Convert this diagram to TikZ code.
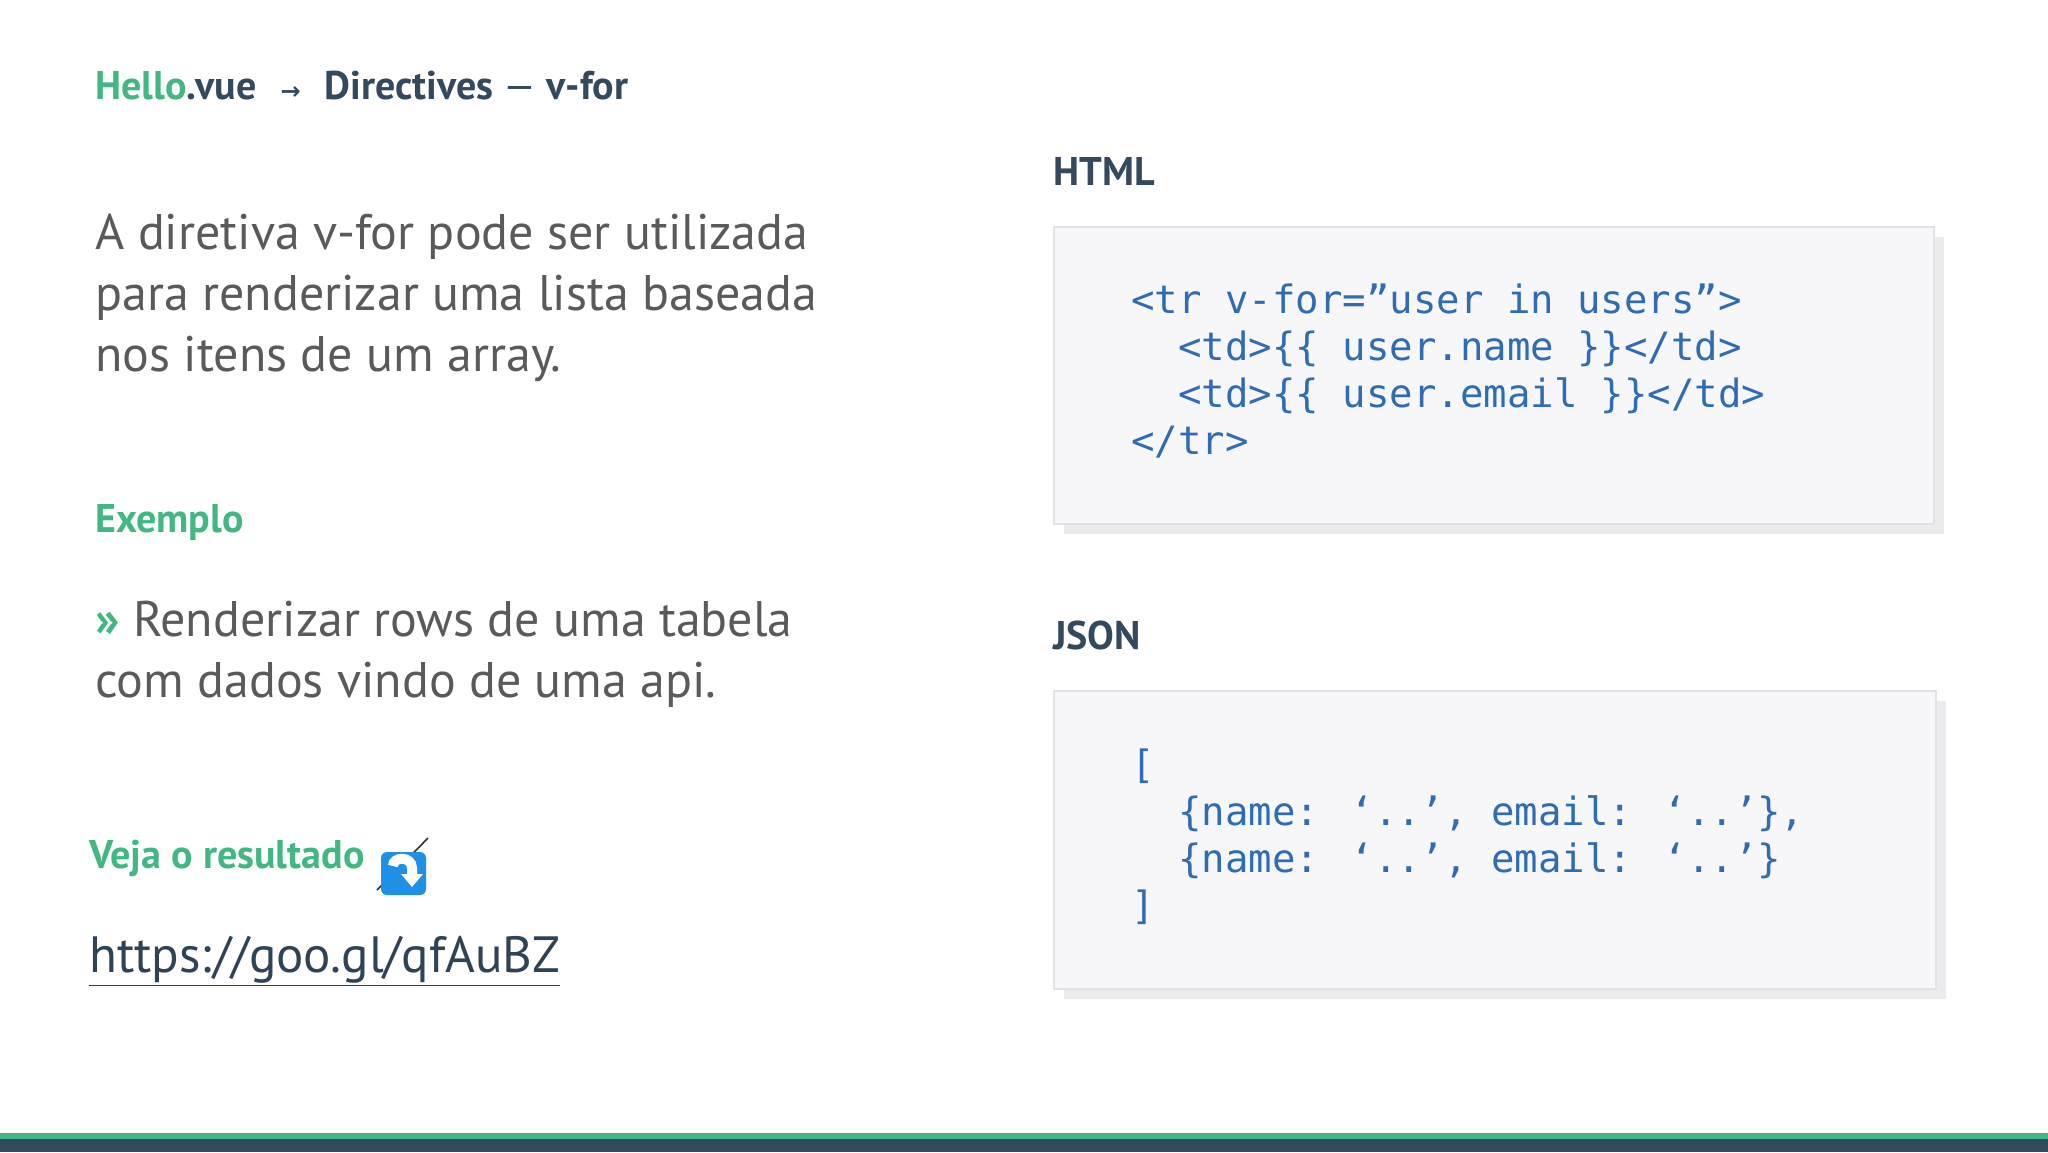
\documentclass[tikz,border=0pt]{standalone}
\usepackage{fontspec}
\setmainfont{PT Sans}
\newfontfamily\codefont{DejaVu Sans Mono}
\newfontfamily\symfont{DejaVu Sans}
\definecolor{vuegreen}{HTML}{41B883}
\definecolor{vuedark}{HTML}{35495E}
\definecolor{bodygray}{HTML}{5A5A5A}
\definecolor{codeblue}{HTML}{2E6DB4}
\definecolor{boxfill}{HTML}{F7F7F9}
\definecolor{boxline}{HTML}{E2E2E6}
\definecolor{shadowc}{HTML}{EBEBEE}
\definecolor{emojiblue}{HTML}{1E90E8}
\begin{document}
\begin{tikzpicture}[x=0.5pt,y=-0.5pt,
  txt/.style={anchor=base west,inner sep=0pt},
  titletxt/.style={txt,font=\fontsize{20}{24}\selectfont\bfseries,text=vuedark},
  bodytxt/.style={txt,font=\fontsize{25}{30.5}\selectfont,text=bodygray,align=left},
  codetxt/.style={txt,font=\codefont\fontsize{19.5}{23.5}\selectfont,text=codeblue,align=left},
  codebox/.style={fill=boxfill,draw=boxline,line width=1pt}]
\useasboundingbox (0,0) rectangle (2048,1152);
\fill[white] (0,0) rectangle (2048,1152);
% bottom bar
\fill[vuegreen] (0,1133) rectangle (2048,1139);
\fill[vuedark] (0,1139) rectangle (2048,1152);
% title
\node[titletxt] (title) at (95,99) {\textcolor{vuegreen}{Hello}.vue\hspace{12pt}{\symfont\fontsize{12}{12}\selectfont→}\hspace{12pt}Directives {\mdseries—} v-for};
% body (anchored at last baseline)
\node[bodytxt] (intro) at (95,371) {A diretiva v-for pode ser utilizada\\para renderizar uma lista baseada\\nos itens de um array.};
\node[titletxt,text=vuegreen] (exemplo) at (95,532) {Exemplo};
\node[bodytxt] (ex) at (95,697) {\textcolor{vuegreen}{\bfseries »} Renderizar rows de uma tabela\\com dados vindo de uma api.};
\node[titletxt,text=vuegreen] (veja) at (89,868) {Veja o resultado};
% emoji
\draw[black!80,line width=0.8pt] (377,890) -- (428,838);
\fill[emojiblue,rounded corners=3pt] (381,852) rectangle (426,895);
\draw[white,line width=5pt] (393,866) .. controls (393,856) and (412,856) .. (412,868) -- (412,876);
\fill[white] (401,874) -- (423,874) -- (412,887) -- cycle;
\node[txt,font=\fontsize{25.5}{30}\selectfont,text=vuedark!90!black] (url) at (89,972) {\underline{https://goo.gl/qfAuBZ}};
% HTML
\node[titletxt] (htmllbl) at (1053,185) {HTML};
\fill[shadowc] (1064,237) rectangle (1944,534);
\draw[codebox] (1054,227) rectangle (1934,524);
\node[codetxt] (htmlcode) at (1131,454) {<tr v-for=”user in users”>\\\ \ <td>\{\{ user.name \}\}</td>\\\ \ <td>\{\{ user.email \}\}</td>\\</tr>};
% JSON
\node[titletxt] (jsonlbl) at (1053,649) {JSON};
\fill[shadowc] (1064,701) rectangle (1946,999);
\draw[codebox] (1054,691) rectangle (1936,989);
\node[codetxt] (jsoncode) at (1131,919) {[\\\ \ \{name: ‘..’, email: ‘..’\},\\\ \ \{name: ‘..’, email: ‘..’\}\\]};
\end{tikzpicture}
\end{document}
